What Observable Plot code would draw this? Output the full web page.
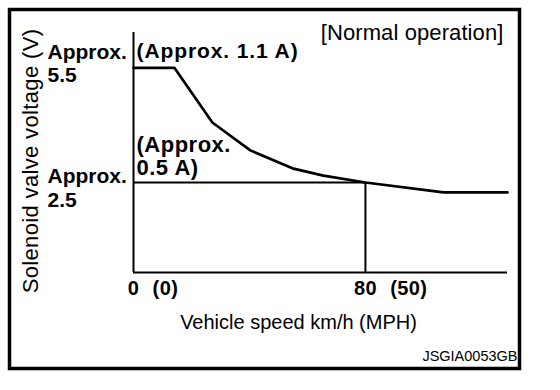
<!DOCTYPE html>
<html>
<head>
<meta charset="utf-8">
<script src="https://cdn.jsdelivr.net/npm/d3@7"></script>
<script src="https://cdn.jsdelivr.net/npm/@observablehq/plot@0.6"></script>
<style>
  html, body { margin: 0; padding: 0; background: #fff; }
</style>
</head>
<body>
<div id="chart"></div>
<script>
// Vehicle speed (km/h) and solenoid valve voltage (V)
const speedKmh = [0, 14.1, 27.2, 40.3, 54.8, 65.5, 80, 106.9, 129];
const voltage  = [5.5, 5.5, 4.07, 3.34, 2.87, 2.68, 2.5, 2.24, 2.24];

// Tick labels
const tickKmh = [0, 80];
const tickMph = [0, 50];

// Annotated levels
const voltageLevels = [5.5, 2.5];
const voltageLabels = ["Approx.\n5.5", "Approx.\n2.5"];
const currentLabels = ["(Approx. 1.1 A)", "(Approx.\n0.5 A)"];
const refSpeed = 80;

const title = "[Normal operation]";
const xTitle = "Vehicle speed km/h (MPH)";
const yTitle = "Solenoid valve voltage (V)";
const code = "JSGIA0053GB";

const xDomain = [0, 129];
const yDomain = [0.146, 6.423];

const curve = speedKmh.map((s, i) => ({speed: s, volt: voltage[i]}));
const bold = "bold";

const chart = Plot.plot({
  width: 560,
  height: 390,
  marginLeft: 133,
  marginRight: 53,
  marginTop: 32,
  marginBottom: 118,
  style: {background: "white", fontFamily: "'Liberation Sans', Arial, sans-serif", overflow: "visible"},
  x: {domain: xDomain, axis: null},
  y: {domain: yDomain, axis: null},
  marks: [
    // outer border
    Plot.frame({stroke: "black", strokeWidth: 3.5, insetLeft: -124, insetTop: -23, insetRight: -12, insetBottom: -96}),
    // axes
    Plot.ruleX([xDomain[0]], {stroke: "black", strokeWidth: 2}),
    Plot.ruleY([yDomain[0]], {stroke: "black", strokeWidth: 2}),
    // reference lines
    Plot.ruleY([voltageLevels[1]], {x1: xDomain[0], x2: refSpeed, stroke: "black", strokeWidth: 2}),
    Plot.ruleX([refSpeed], {y1: yDomain[0], y2: voltageLevels[1], stroke: "black", strokeWidth: 2}),
    // curve
    Plot.line(curve, {x: "speed", y: "volt", stroke: "black", strokeWidth: 2.7, strokeLinejoin: "round"}),
    // voltage labels (left)
    Plot.text([voltageLevels[0]], {y: d => d, text: [voltageLabels[0]], frameAnchor: "left", textAnchor: "start", lineAnchor: "bottom", lineHeight: 1.12, dx: -86, dy: 14.5, fontSize: 21, fontWeight: bold, fill: "black"}),
    Plot.text([voltageLevels[1]], {y: d => d, text: [voltageLabels[1]], frameAnchor: "left", textAnchor: "start", lineAnchor: "bottom", lineHeight: 1.12, dx: -86, dy: 24.5, fontSize: 21, fontWeight: bold, fill: "black"}),
    // current labels (inside)
    Plot.text([voltageLevels[0]], {x: xDomain[0], y: d => d, text: [currentLabels[0]], textAnchor: "start", lineAnchor: "bottom", dx: 3, dy: -10, fontSize: 21, fontWeight: bold, fill: "black"}),
    Plot.text([voltageLevels[1]], {x: xDomain[0], y: d => d, text: [currentLabels[1]], textAnchor: "start", lineAnchor: "bottom", lineHeight: 1.05, dx: 3, dy: -7, fontSize: 22, fontWeight: bold, fill: "black"}),
    // x tick labels: km/h centred on tick, MPH in parentheses after it
    Plot.text(tickKmh, {x: d => d, text: d => String(d), frameAnchor: "bottom", textAnchor: "middle", lineAnchor: "bottom", dy: 22, fontSize: 20, fontWeight: bold, fill: "black"}),
    ...tickKmh.map((k, i) => Plot.text([k], {x: d => d, text: [`(${tickMph[i]})`], frameAnchor: "bottom", textAnchor: "start", lineAnchor: "bottom", dx: 13.5 + 5.6 * String(k).length, dy: 22, fontSize: 20, fontWeight: bold, fill: "black"})),
    // titles
    Plot.text([title], {frameAnchor: "top-right", textAnchor: "end", lineAnchor: "bottom", dx: -4, dy: 7, fontSize: 22, fill: "black"}),
    Plot.text([xTitle], {frameAnchor: "bottom", textAnchor: "middle", lineAnchor: "bottom", dx: -22, dy: 56, fontSize: 20, fill: "black"}),
    Plot.text([yTitle], {frameAnchor: "left", textAnchor: "middle", lineAnchor: "middle", rotate: -90, dx: -103, dy: 8.5, fontSize: 22, fill: "black"}),
    Plot.text([code], {frameAnchor: "bottom-right", textAnchor: "end", lineAnchor: "bottom", dx: 10, dy: 88, fontSize: 14.5, fill: "black"})
  ]
});

// Letter spacing tweaks to match the wider lettering of the original artwork
const spacing = new Map([
  [currentLabels[0], "0.9px"],
  [currentLabels[1].replace("\n", ""), "0.5px"],
  [yTitle, "0.35px"],
  [title, "0.1px"],
  ...tickMph.map(m => [`(${m})`, "0.4px"]),
  ...tickKmh.map(k => [String(k), "0.4px"])
]);
d3.select(chart).selectAll("text").each(function () {
  const ls = spacing.get(this.textContent);
  if (ls) this.style.letterSpacing = ls;
});
document.getElementById("chart").appendChild(chart);
</script>
</body>
</html>
